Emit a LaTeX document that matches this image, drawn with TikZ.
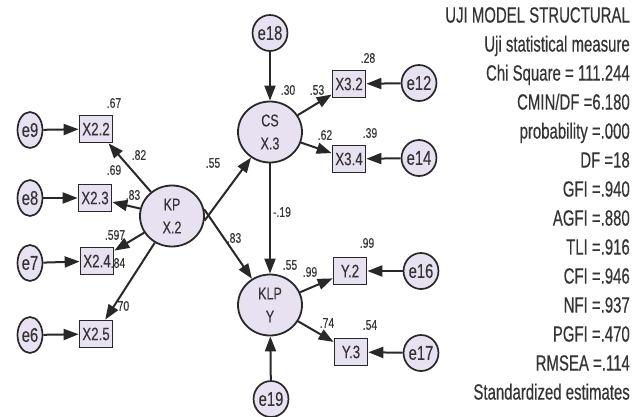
\documentclass[tikz,border=0pt]{standalone}
\usepackage{fontspec}
\setmainfont{Liberation Sans}[FakeStretch=0.74,FakeBold=0.3]
\newfontfamily\etroit{Liberation Sans}[FakeStretch=0.68,FakeBold=0.4]
\usepackage{xcolor}
\definecolor{lila}{RGB}{232,225,242}
\definecolor{trait}{RGB}{40,40,40}
\definecolor{texte}{RGB}{52,52,52}
\usetikzlibrary{shapes,arrows.meta,calc,positioning}

\tikzset{
  erreur/.style={ellipse,draw=trait,fill=lila,line width=1.7pt,minimum width=25pt,minimum height=36pt,inner sep=0pt,text=texte,font=\fontsize{20}{20}\selectfont},
  latent/.style={ellipse,draw=trait,fill=lila,line width=1.8pt,minimum width=64pt,minimum height=61pt,inner sep=0pt,align=center,text=texte,font=\fontsize{17}{23}\selectfont},
  indic/.style={rectangle,draw=trait,fill=lila,line width=1.7pt,minimum width=33pt,minimum height=27pt,inner sep=1.5pt,text=texte,font=\fontsize{18}{18}\selectfont},
  coef/.style={inner sep=0pt,text=texte,font=\fontsize{14}{14}\selectfont},
  fleche/.style={draw=trait,line width=2pt,-{Triangle[length=15pt,width=11pt]}},
}

\begin{document}
\begin{tikzpicture}[x=1pt,y=-1pt]
  \useasboundingbox (0,0) rectangle (643,416);
  % latent variables
  \node[latent] (KP) at (172,216) {KP\\X.2};
  \node[latent] (CS) at (270,132) {CS\\X.3};
  \node[latent] (KLP) at (270,305) {KLP\\Y};
  % indicators
  \node[indic] (X22) at (96,129) {X2.2};
  \node[indic] (X23) at (95,198) {X2.3};
  \node[indic] (X24) at (97,261) {X2.4};
  \node[indic] (X25) at (96,334) {X2.5};
  \node[indic] (X32) at (349,84) {X3.2};
  \node[indic] (X34) at (349,159) {X3.4};
  \node[indic] (Y2) at (350,271) {Y.2};
  \node[indic] (Y3) at (351,352) {Y.3};
  % errors
  \node[erreur] (e9) at (30,130) {e9};
  \node[erreur] (e8) at (30,198) {e8};
  \node[erreur] (e7) at (30,263) {e7};
  \node[erreur] (e6) at (30,335) {e6};
  \node[erreur] (e18) at (270,33) {e18};
  \node[erreur] (e19) at (271,399) {e19};
  \node[erreur] (e12) at (419,83) {e12};
  \node[erreur] (e14) at (419,158) {e14};
  \node[erreur] (e16) at (421,271) {e16};
  \node[erreur] (e17) at (421,353) {e17};

  % estimates
  \node[coef] (c67) at (114,103) {.67};
  \node[coef] (c82) at (139,155) {.82};
  \node[coef] (c69) at (114,170) {.69};
  \node[coef] (c83a) at (133,195) {.83};
  \node[coef] (c597) at (115,235) {.597};
  \node[coef] (c84) at (118,263) {.84};
  \node[coef] (c70) at (122,306) {.70};
  \node[coef] (c55a) at (213,163) {.55};
  \node[coef] (c83b) at (234,238) {.83};
  \node[coef] (c19) at (282,212) {-.19};
  \node[coef] (c30) at (288,90) {.30};
  \node[coef] (c53) at (317,90) {.53};
  \node[coef] (c28) at (368,58) {.28};
  \node[coef] (c62) at (325,135) {.62};
  \node[coef] (c39) at (370,133) {.39};
  \node[coef] (c55b) at (290,265) {.55};
  \node[coef] (c99a) at (310,272) {.99};
  \node[coef] (c99b) at (367,243) {.99};
  \node[coef] (c74) at (327,323) {.74};
  \node[coef] (c54) at (370,325) {.54};

  % paths
  \draw[fleche] (e9) -- (X22);
  \draw[fleche] (e8) -- (X23);
  \draw[fleche] (e7) -- (X24);
  \draw[fleche] (e6) -- (X25);
  \draw[fleche] (KP) -- (X22);
  \draw[fleche] (KP) -- (X23);
  \draw[fleche] (KP) -- (X24);
  \draw[fleche] (KP) -- (X25);
  \draw[fleche] (KP.-8) -- (CS);
  \draw[fleche] (KP.12) -- (KLP);
  \draw[fleche] (CS) -- (KLP);
  \draw[fleche] (e18) -- (CS);
  \draw[fleche] (e19) -- (KLP);
  \draw[fleche] (CS) -- (X32);
  \draw[fleche] (CS) -- (X34);
  \draw[fleche] (KLP) -- (Y2);
  \draw[fleche] (KLP) -- (Y3);
  \draw[fleche] (e12) -- (X32);
  \draw[fleche] (e14) -- (X34);
  \draw[fleche] (e16) -- (Y2);
  \draw[fleche] (e17) -- (Y3);

  % fit measures
  \node[anchor=north east,inner sep=0pt,align=right,text=texte,font=\etroit\fontsize{22}{29}\selectfont] (mesures) at (630,7)
    {UJI MODEL STRUCTURAL\\Uji statistical measure\\Chi Square = 111.244\\CMIN/DF =6.180\\probability =.000\\DF =18\\GFI =.940\\AGFI =.880\\TLI =.916\\CFI =.946\\NFI =.937\\PGFI =.470\\RMSEA =.114\\Standardized estimates};
\end{tikzpicture}
\end{document}
